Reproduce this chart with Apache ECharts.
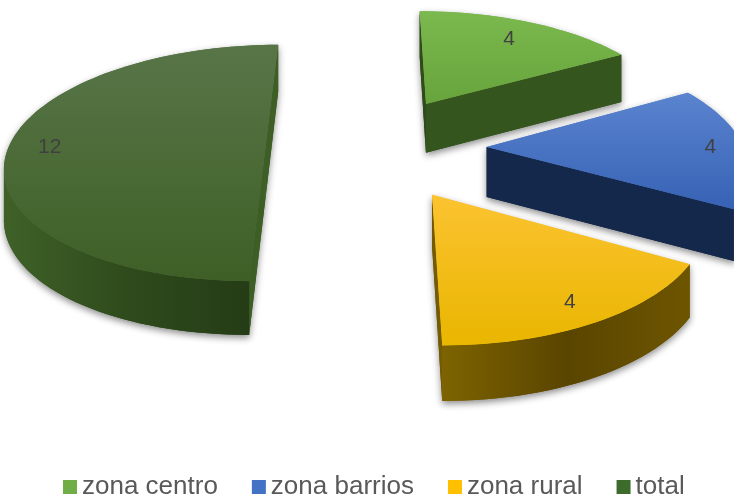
<!DOCTYPE html>
<html>
<head>
<meta charset="utf-8">
<script src="https://cdn.jsdelivr.net/npm/echarts@6/dist/echarts.min.js"></script>
<style>
  html, body { margin: 0; background: #fff; }
  #chart { width: 734px; height: 501px; }
</style>
</head>
<body>
<div id="chart"></div>
<script>
const categories = ['zona centro', 'zona barrios', 'zona rural', 'total'];
const values = [4, 4, 4, 12];

// look of each slice: top gradient, curved side (start, mid, end), flat cut faces (start, end)
const topColors = [['#7bb84e', '#67a43b'], ['#5a84cf', '#3762b5'], ['#fcc331', '#e9b600'], ['#587548', '#3e6026']];
const sideColors = [['#37571f', '#35551e', '#33531d'], ['#172c52', '#172c52', '#1a3260'], ['#6d5500', '#5a4500', '#7d6300'], ['#253c16', '#2f4b1c', '#3f6128']];
const flatColors = [['#2f4c1a', '#35551f'], ['#15294d', '#14284b'], ['#6a5200', '#745a00'], ['#3d5f25', '#3d5f25']];
const legendColors = ['#70ad47', '#4472c4', '#ffc000', '#3d6b2b'];
const explode = [0.45, 0.45, 0.45, 0.41];
const labelRadius = [0.78, 0.87, 0.86, 0.84];

// fake 3D camera
const CX = 371, CY = 147, AX = 257, BY = 116, F = 7.4, H = 50;

function proj(X, D, Z) {
  const s = F / (F - D);
  return [CX + X * AX * s, CY + D * BY * s + Z * H * Math.sqrt(s)];
}

function area(pts) {
  let a = 0;
  for (let i = 0; i < pts.length; i++) {
    const p = pts[i], q = pts[(i + 1) % pts.length];
    a += p[0] * q[1] - q[0] * p[1];
  }
  return a / 2;
}

function makeRender(idx) {
  return function (params, api) {
    const total = values.reduce((s, v) => s + v, 0);
    let before = 0;
    for (let k = 0; k < idx; k++) before += values[k];
    const v = api.value(0);
    const a0 = before / total * Math.PI * 2;
    const a1 = (before + v) / total * Math.PI * 2;
    const mid = (a0 + a1) / 2;
    const ox = explode[idx] * Math.sin(mid);
    const od = -explode[idx] * Math.cos(mid);
    const pt = (a, r, z) => proj(ox + r * Math.sin(a), od - r * Math.cos(a), z);

    const n = Math.max(8, Math.round((a1 - a0) / (Math.PI / 90)));
    const angs = [];
    for (let k = 0; k <= n; k++) angs.push(a0 + (a1 - a0) * k / n);

    const faces = [];
    // flat cut faces
    const f0 = [pt(a0, 0, 0), pt(a0, 1, 0), pt(a0, 1, 1), pt(a0, 0, 1)];
    if (area(f0) < 0) faces.push({ points: f0, fill: flatColors[idx][0] });
    const f1 = [pt(a1, 1, 0), pt(a1, 0, 0), pt(a1, 0, 1), pt(a1, 1, 1)];
    if (area(f1) < 0) faces.push({ points: f1, fill: flatColors[idx][1] });

    // curved side: keep only the segments that face the viewer
    const vis = [];
    for (let k = 0; k < n; k++) {
      const q = [pt(angs[k], 1, 0), pt(angs[k + 1], 1, 0), pt(angs[k + 1], 1, 1), pt(angs[k], 1, 1)];
      if (area(q) < 0) vis.push(k);
    }
    if (vis.length) {
      const ks = vis[0], ke = vis[vis.length - 1] + 1;
      const topArc = [], botArc = [];
      for (let k = ks; k <= ke; k++) {
        topArc.push(pt(angs[k], 1, 0));
        botArc.push(pt(angs[k], 1, 1));
      }
      const pts = topArc.concat(botArc.reverse());
      let c = sideColors[idx].slice();
      if (topArc[0][0] > topArc[topArc.length - 1][0]) c = c.reverse();
      faces.push({
        points: pts,
        fill: new echarts.graphic.LinearGradient(0, 0, 1, 0, [
          { offset: 0, color: c[0] }, { offset: 0.5, color: c[1] }, { offset: 1, color: c[2] }
        ])
      });
    }

    // top face
    const topPts = [pt(a0, 0, 0)];
    angs.forEach(a => topPts.push(pt(a, 1, 0)));
    faces.push({
      points: topPts,
      fill: new echarts.graphic.LinearGradient(0, 0, 0, 1, [
        { offset: 0, color: topColors[idx][0] }, { offset: 1, color: topColors[idx][1] }
      ])
    });

    const children = [];
    faces.forEach(f => children.push({
      type: 'polygon', shape: { points: f.points },
      style: { fill: f.fill, shadowBlur: 7, shadowColor: 'rgba(0,0,0,0.45)', shadowOffsetY: 3 }
    }));
    faces.forEach(f => children.push({
      type: 'polygon', shape: { points: f.points },
      style: { fill: f.fill, stroke: null }
    }));

    const lp = pt(mid, labelRadius[idx], 0);
    children.push({
      type: 'text', x: lp[0], y: lp[1],
      style: {
        text: String(v), fill: '#404040', font: '21px "Liberation Sans", Arial, sans-serif',
        align: 'center', verticalAlign: 'middle'
      }
    });
    return { type: 'group', children: children };
  };
}

const myChart = echarts.init(document.getElementById('chart'));

const option = {
  animation: false,
  legend: {
    data: categories,
    top: 469,
    left: 58,
    icon: 'rect',
    itemWidth: 14,
    itemHeight: 14,
    itemGap: 34,
    textStyle: { fontSize: 26, color: '#595959', fontFamily: 'Liberation Sans' }
  },
  series: categories.map((name, i) => ({
    type: 'custom',
    name: name,
    coordinateSystem: 'none',
    itemStyle: { color: legendColors[i] },
    renderItem: makeRender(i),
    data: [values[i]]
  }))
};

option && myChart.setOption(option);
</script>
</body>
</html>
